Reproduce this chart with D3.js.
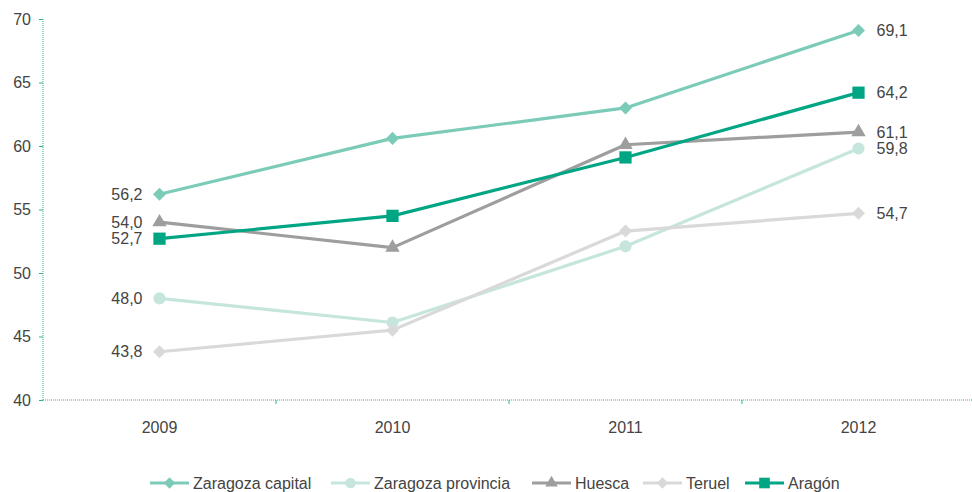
<!DOCTYPE html>
<html><head><meta charset="utf-8">
<script src="https://d3js.org/d3.v7.min.js"></script>
<style>body{margin:0;background:#fff;} text{font-family:"Liberation Sans",Arial,sans-serif;}</style>
</head><body><svg id="c" width="972" height="492"></svg>
<script>
const years = ["2009","2010","2011","2012"];
const seriesNames = ["Zaragoza capital","Zaragoza provincia","Huesca","Teruel","Aragón"];
const zaragozaCapital = [56.2, 60.6, 63.0, 69.1];
const zaragozaProvincia = [48.0, 46.1, 52.1, 59.8];
const huesca = [54.0, 52.0, 60.1, 61.1];
const teruel = [43.8, 45.5, 53.3, 54.7];
const aragon = [52.7, 54.5, 59.1, 64.2];
const yTicks = [40,45,50,55,60,65,70];

const colors = ["#7ccbb9","#c6e6dd","#9e9e9e","#d9d9d9","#00a683"];
const symbols = [
  {type:d3.symbolSquare, size:85, rot:45},
  {type:d3.symbolCircle, size:115, rot:0},
  {type:d3.symbolTriangle, size:90, rot:0},
  {type:d3.symbolSquare, size:85, rot:45},
  {type:d3.symbolSquare, size:150, rot:0}
];
const allValues = [zaragozaCapital, zaragozaProvincia, huesca, teruel, aragon];
const svg = d3.select("#c");
const x = d3.scaleBand().domain(years).range([43, 975]).padding(0);
const cx = d => x(d) + x.bandwidth()/2;
const y = d3.scaleLinear().domain([40,70]).range([400,19]);
const axisColor = "#2db391";
const textColor = "#444";

// y axis
const ya = svg.append("g").attr("transform","translate(43,0)")
  .call(d3.axisLeft(y).tickValues(yTicks).tickSize(4).tickPadding(8).tickFormat(d3.format("d")));
ya.select(".domain").attr("stroke",axisColor).attr("stroke-dasharray","1,1").attr("d","M0,400V19");
ya.selectAll(".tick line").attr("stroke",axisColor);
ya.selectAll(".tick text").attr("fill",textColor).style("font-size","16px").style("font-family","Liberation Sans, Arial, sans-serif");

// x axis
const xg = svg.append("g");
xg.append("line").attr("x1",43).attr("x2",972).attr("y1",y(40)).attr("y2",y(40))
  .attr("stroke",axisColor).attr("stroke-dasharray","1,1");
xg.selectAll("line.tk").data(years.slice(1)).join("line").attr("class","tk")
  .attr("x1",d=>x(d)).attr("x2",d=>x(d)).attr("y1",y(40)).attr("y2",y(40)+4).attr("stroke",axisColor);
xg.selectAll("text").data(years).join("text")
  .attr("x",d=>cx(d)).attr("y",y(40)+33).attr("text-anchor","middle")
  .attr("fill",textColor).style("font-size","16px").text(d=>d);

const line = d3.line().x((d,i)=>cx(years[i])).y(d=>y(d));
const fmt = v => v.toFixed(1).replace(".",",");

allValues.forEach((vals,si)=>{
  const g = svg.append("g");
  g.append("path").datum(vals).attr("d",line).attr("fill","none")
    .attr("stroke",colors[si]).attr("stroke-width",3.2).attr("stroke-linejoin","round");
  const sym = d3.symbol().type(symbols[si].type).size(symbols[si].size);
  g.selectAll("path.m").data(vals).join("path").attr("class","m")
    .attr("d",sym).attr("fill",colors[si])
    .attr("transform",(d,i)=>`translate(${cx(years[i])},${y(d)}) rotate(${symbols[si].rot})`);
});
// data labels
allValues.forEach((vals,si)=>{
  const first = vals[0], last = vals[vals.length-1];
  svg.append("text").attr("x",cx(years[0])-17).attr("y",y(first)).attr("dy","0.35em")
    .attr("text-anchor","end").attr("fill",textColor).style("font-size","16px").text(fmt(first));
  svg.append("text").attr("x",cx(years[years.length-1])+18).attr("y",y(last)).attr("dy","0.35em")
    .attr("text-anchor","start").attr("fill",textColor).style("font-size","16px").text(fmt(last));
});

// legend
const legX = [150, 331, 532, 643, 745];
const legY = 483;
seriesNames.forEach((n,si)=>{
  const g = svg.append("g").attr("transform",`translate(${legX[si]},${legY})`);
  g.append("line").attr("x1",0).attr("x2",39).attr("y1",0).attr("y2",0)
    .attr("stroke",colors[si]).attr("stroke-width",3.2);
  const sym = d3.symbol().type(symbols[si].type).size(symbols[si].size*0.75);
  g.append("path").attr("d",sym).attr("fill",colors[si])
    .attr("transform",`translate(19.5,0) rotate(${symbols[si].rot})`);
  g.append("text").attr("x",43).attr("y",0).attr("dy","0.36em").attr("fill",textColor)
    .style("font-size","16px").text(n);
});
</script></body></html>
